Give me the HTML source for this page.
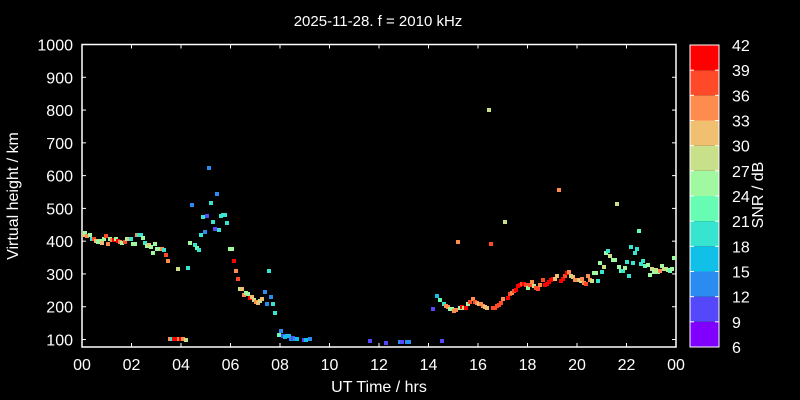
<!DOCTYPE html>
<html><head><meta charset="utf-8"><style>
html,body{margin:0;padding:0;background:#000;}
svg{display:block;}
text{font-family:"Liberation Sans",sans-serif;fill:#fff;}
</style></head><body>
<svg id="s" width="800" height="400" viewBox="0 0 800 400" xmlns="http://www.w3.org/2000/svg">
<rect width="800" height="400" fill="#000"/>
<text x="378" y="26" font-size="15" text-anchor="middle">2025-11-28. f = 2010 kHz</text>
<g id="axes" stroke="#fff" stroke-width="1.5" fill="none">
<rect x="82" y="44.5" width="594" height="302.5"/>
</g>
<g id="ticks" stroke="#fff" stroke-width="1"></g>
<g id="labels" font-size="16"></g>
<text x="379" y="392" font-size="16" text-anchor="middle">UT Time / hrs</text>
<text transform="translate(18,196) rotate(-90)" font-size="16" text-anchor="middle">Virtual height / km</text>
<g id="cb"></g>
<text transform="translate(763,195) rotate(-90)" font-size="16" text-anchor="middle">SNR / dB</text>
<g id="pts"></g>
</svg>
<script>
const NS="http://www.w3.org/2000/svg";
function el(p,t,a,txt){const e=document.createElementNS(NS,t);for(const k in a)e.setAttribute(k,a[k]);if(txt!==undefined)e.textContent=txt;document.getElementById(p).appendChild(e);}
function Y(v){return 44.5+(1000-v)*0.3278;}
for(let v=100;v<=1000;v+=100){const y=Y(v);
el("ticks","line",{x1:82,y1:y,x2:86,y2:y});el("ticks","line",{x1:672,y1:y,x2:676,y2:y});
el("labels","text",{x:73,y:y+6,"text-anchor":"end"},String(v));}
for(let h=0;h<=24;h+=2){const x=82+h*24.75;
el("ticks","line",{x1:x,y1:347,x2:x,y2:343});el("ticks","line",{x1:x,y1:44.5,x2:x,y2:48.5});
el("labels","text",{x:x,y:370,"text-anchor":"middle"},(h%24<10?"0":"")+(h%24));}
const cols=["#8000ff","#5548fb","#2a8cf0","#10c0e8","#36e4d0","#66fcb4","#a0f8a0","#c8e08a","#f0c070","#ff8c4f","#ff4a2a","#ff0000"];
const bh=302/12;
for(let i=0;i<12;i++){el("cb","rect",{x:690,y:347-(i+1)*bh,width:29,height:bh,fill:cols[i]});}
el("cb","rect",{x:690,y:45,width:29,height:302,fill:"none",stroke:"#fff","stroke-width":1});
for(let i=0;i<=12;i++){const y=347-i*bh;
if(i>0&&i<12){el("cb","line",{x1:690,y1:y,x2:694,y2:y,stroke:"#fff"});el("cb","line",{x1:715,y1:y,x2:719,y2:y,stroke:"#fff"});}
el("cb","text",{x:732,y:y+6,"font-size":"16"},String(6+3*i));}
const C={r:"#ff0000",ro:"#ff4a2a",o:"#ff8c4f",p:"#f0c070",yg:"#c8e08a",lg:"#a0f8a0",g:"#66fcb4",a:"#36e4d0",c:"#10c0e8",b:"#2a8cf0",i:"#5548fb"};
const P=`84,235,p 85,233,lg 87,236,o 90,235,lg 92,239,a 94,239,ro 96,241,p 98,242,lg 100,241,lg 102,243,p 104,239,lg 106,236,ro 108,244,o 110,239,lg 112,240,o 114,240,r 116,239,lg 118,241,r 120,242,o 122,243,lg 125,242,ro 127,239,lg 129,239,p 131,239,a 133,244,lg 135,244,lg 137,235,o 139,235,a 141,235,a 143,238,lg 145,243,a 147,246,lg 149,245,p 151,247,lg 153,253,lg 155,244,lg 157,249,lg 159,249,lg 162,249,o 164,250,a 166,255,ro 168,261,o 178,269,yg 188,268,a 190,243,lg 192,205,b 195,245,a 197,248,g 199,250,a 201,235,a 203,217,a 205,232,b 207,216,i 209,168,b 211,203,a 213,222,a 215,229,i 217,194,b 219,230,a 221,216,a 223,215,a 225,215,a 227,223,a 230,249,lg 232,249,lg 234,261,r 236,271,o 238,279,ro 240,289,yg 170,339,o 172,339,a 174,339,r 176,339,r 179,339,o 181,339,r 183,339,o 186,340,yg 242,289,p 244,295,o 246,293,lg 248,294,lg 250,298,r 252,297,p 254,300,yg 256,302,o 258,303,p 260,301,yg 262,299,p 265,292,b 267,304,b 269,271,a 271,297,b 273,304,a 275,313,a 279,335,g 281,331,b 283,336,i 285,337,c 287,336,c 289,336,c 291,339,b 293,338,i 295,339,b 297,339,c 304,340,i 306,340,c 310,339,b 370,341,i 386,343,i 400,342,b 402,342,i 407,342,b 409,342,b 442,341,i 433,309,i 437,296,c 440,300,g 444,304,a 446,306,o 448,307,o 450,309,lg 452,309,lg 454,311,o 456,310,o 458,242,o 460,308,lg 462,307,r 464,308,yg 466,308,r 468,304,lg 470,302,ro 473,299,o 475,302,ro 477,303,o 479,304,p 481,304,o 483,306,o 485,307,p 487,308,p 491,244,ro 493,308,ro 495,308,ro 497,306,ro 499,305,ro 501,303,ro 503,299,o 508,298,r 510,294,ro 512,293,o 514,291,ro 516,290,r 518,286,r 520,285,r 522,284,ro 524,284,r 526,285,ro 528,288,lg 530,285,ro 532,282,o 534,286,yg 536,288,ro 538,289,ro 540,285,o 543,280,ro 545,285,r 547,284,r 549,282,r 551,280,r 553,279,r 555,279,p 557,276,p 561,281,r 563,279,r 565,276,ro 567,273,r 569,272,o 571,276,yg 573,277,p 575,280,o 577,280,o 579,280,p 581,281,yg 582,279,o 584,283,o 586,284,ro 588,276,o 590,280,o 592,281,yg 594,273,lg 596,273,lg 598,281,a 600,263,lg 602,272,a 604,267,yg 606,253,lg 608,251,a 610,256,yg 613,260,lg 615,260,lg 617,204,yg 619,267,lg 621,271,g 623,271,a 625,268,lg 627,262,a 629,276,a 631,247,a 633,263,a 635,253,a 637,249,a 639,231,g 641,264,a 643,261,a 645,266,g 648,265,lg 650,275,lg 652,269,yg 654,272,lg 656,270,yg 658,272,lg 660,271,o 662,266,lg 664,269,yg 666,269,yg 668,270,lg 670,271,g 672,269,lg 674,258,lg 489,110,yg 505,222,yg 559,190,o`;
P.split(/\s+/).forEach(s=>{const [x,y,c]=s.split(",");el("pts","rect",{x:+x-2,y:+y-2,width:4,height:4,fill:C[c]});});
</script>
</body></html>
